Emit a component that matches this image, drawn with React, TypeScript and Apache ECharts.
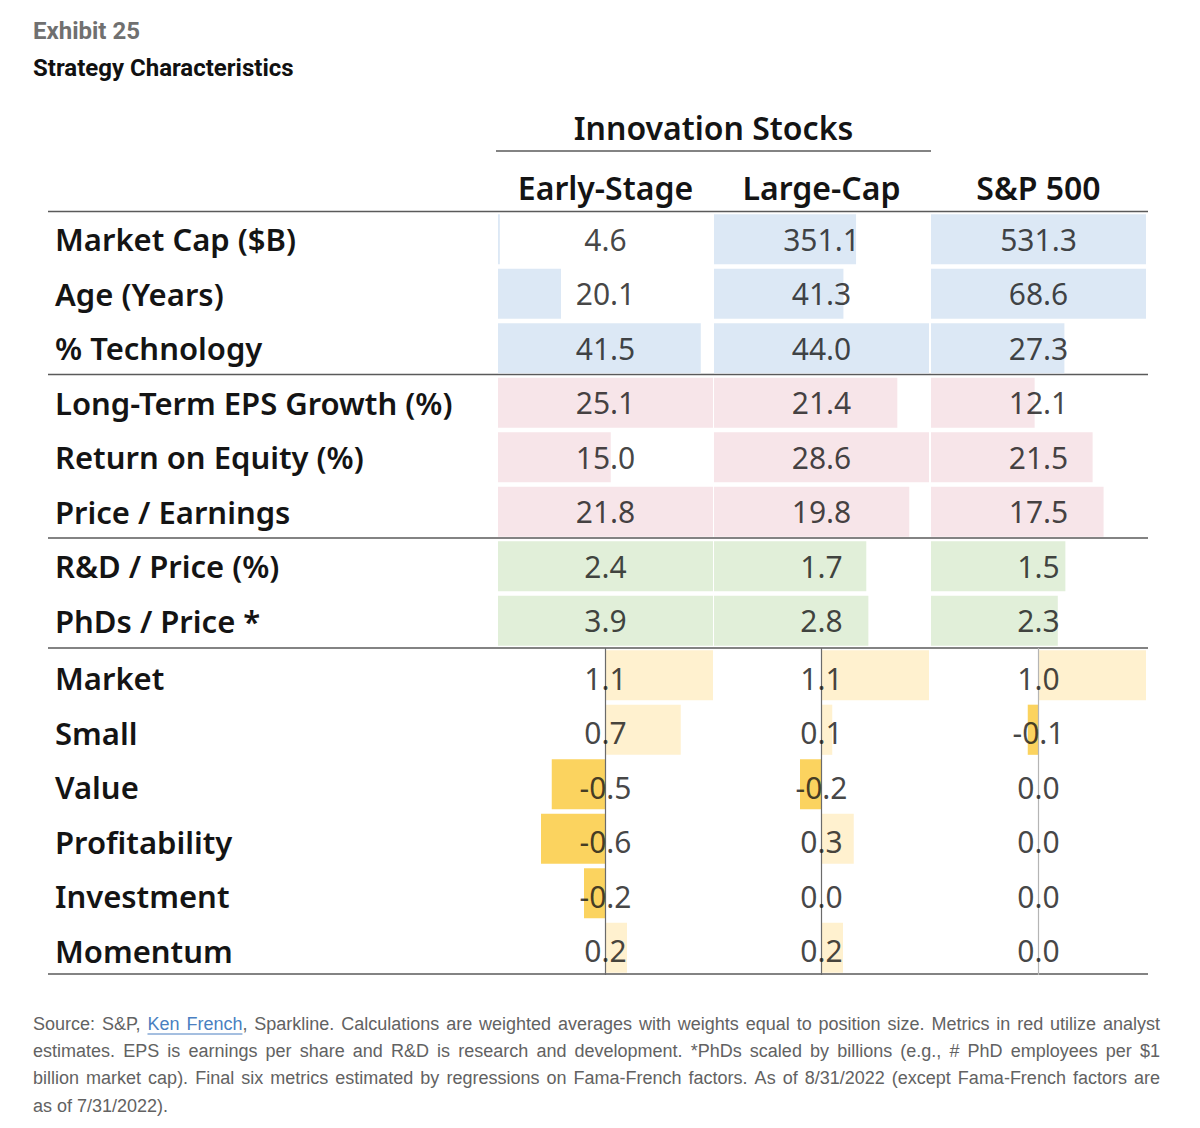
import React, { useEffect, useRef } from 'react';
import * as echarts from 'echarts';

// ---------- data ----------
const exhibitLabel = 'Exhibit 25';
const chartTitle = 'Strategy Characteristics';
const groupTitle = 'Innovation Stocks';
const columns = ['Early-Stage', 'Large-Cap', 'S&P 500'];

const metricRows = [
  'Market Cap ($B)',
  'Age (Years)',
  '% Technology',
  'Long-Term EPS Growth (%)',
  'Return on Equity (%)',
  'Price / Earnings',
  'R&D / Price (%)',
  'PhDs / Price *',
];
const earlyStage = [4.6, 20.1, 41.5, 25.1, 15.0, 21.8, 2.4, 3.9];
const largeCap = [351.1, 41.3, 44.0, 21.4, 28.6, 19.8, 1.7, 2.8];
const sp500 = [531.3, 68.6, 27.3, 12.1, 21.5, 17.5, 1.5, 2.3];

const factorRows = ['Market', 'Small', 'Value', 'Profitability', 'Investment', 'Momentum'];
const earlyFactors = [1.1, 0.7, -0.5, -0.6, -0.2, 0.2];
const largeFactors = [1.1, 0.1, -0.2, 0.3, 0.0, 0.2];
const spFactors = [1.0, -0.1, 0.0, 0.0, 0.0, 0.0];

const footnoteLines = [
  'Source: S&P, Ken French, Sparkline. Calculations are weighted averages with weights equal to position size. Metrics in red utilize analyst',
  'estimates. EPS is earnings per share and R&D is research and development. *PhDs scaled by billions (e.g., # PhD employees per $1',
  'billion market cap). Final six metrics estimated by regressions on Fama-French factors. As of 8/31/2022 (except Fama-French factors are',
  'as of 7/31/2022).',
];
const linkWords = ['Ken', 'French'];

// ---------- styling ----------
const metricColors = ['#dce8f5', '#dce8f5', '#dce8f5', '#f7e5e9', '#f7e5e9', '#f7e5e9', '#e1efd9', '#e1efd9'];
const posColor = '#fff1cf';
const negColor = '#fbd35f';
const axisColors = ['#6b6b6b', '#6b6b6b', '#b5b5b5'];
const colLeft = [498, 714, 931];
const colWidth = 215;
const tableTop = 212;
const rowH = 54.5;
const ruleColor = '#5a5a5a';
const labelFont = "'Noto Sans', sans-serif";

function buildFootnote(): any[] {
  const font = "18px 'Liberation Sans'";
  const canvas = document.createElement('canvas');
  const ctx = canvas.getContext('2d')!;
  ctx.font = font;
  const x0 = 33;
  const x1 = 1160;
  const ys = [1024, 1051, 1078, 1106];
  const els: any[] = [];
  footnoteLines.forEach((line, li) => {
    const words = line.split(' ');
    const widths = words.map((w) => ctx.measureText(w).width);
    const total = widths.reduce((a, b) => a + b, 0);
    const last = li === footnoteLines.length - 1;
    const gap = last ? ctx.measureText(' ').width : (x1 - x0 - total) / (words.length - 1);
    let x = x0;
    let linkStart = -1;
    let linkEnd = -1;
    words.forEach((w, wi) => {
      const core = w.replace(/[,.]$/, '');
      const isLink = li === 0 && linkWords.includes(core);
      if (isLink) {
        const cw = ctx.measureText(core).width;
        els.push({
          type: 'text', x, y: ys[li], silent: true,
          style: { text: core, font, fill: '#4a7fc1', textVerticalAlign: 'middle', verticalAlign: 'middle' },
        });
        if (linkStart < 0) linkStart = x;
        linkEnd = x + cw;
        if (core !== w) {
          els.push({
            type: 'text', x: x + cw, y: ys[li], silent: true,
            style: { text: w.slice(core.length), font, fill: '#626262', textVerticalAlign: 'middle', verticalAlign: 'middle' },
          });
        }
      } else {
        els.push({
          type: 'text', x, y: ys[li], silent: true,
          style: { text: w, font, fill: '#626262', textVerticalAlign: 'middle', verticalAlign: 'middle' },
        });
      }
      x += widths[wi] + gap;
    });
    if (linkStart >= 0) {
      els.push({
        type: 'line', silent: true,
        shape: { x1: linkStart, y1: ys[li] + 10, x2: linkEnd, y2: ys[li] + 10 },
        style: { stroke: '#4a7fc1', lineWidth: 1 },
      });
    }
  });
  return els;
}

export default function App() {
  const ref = useRef<HTMLDivElement>(null);

  useEffect(() => {
    document.body.style.margin = '0';
    if (!ref.current) return;
    const chart = echarts.init(ref.current, undefined, { renderer: 'svg' });

    const metricCols = [earlyStage, largeCap, sp500];
    const factorCols = [earlyFactors, largeFactors, spFactors];
    const rowMax = metricRows.map((_, j) => Math.max(...metricCols.map((c) => c[j])));

    const grids: any[] = [];
    const xAxes: any[] = [];
    const yAxes: any[] = [];
    const series: any[] = [];

    const rowLabel = (show: boolean, shift: number) => ({
      show,
      align: 'left',
      margin: 498 - 55,
      formatter: (v: string) => `{t|${v}}`,
      rich: {
        t: {
          fontFamily: labelFont,
          fontWeight: 600,
          fontSize: 31,
          color: '#141414',
          padding: [shift * 2, 0, 0, 0],
        },
      },
    });

    columns.forEach((_, i) => {
      const gTop = grids.length;
      grids.push({ left: colLeft[i], top: tableTop, width: colWidth, height: rowH * metricRows.length });
      xAxes.push({ type: 'value', gridIndex: gTop, min: 0, max: 1, show: false });
      yAxes.push({
        type: 'category', gridIndex: gTop, data: metricRows, inverse: true,
        axisLine: { show: false }, axisTick: { show: false }, splitLine: { show: false },
        axisLabel: rowLabel(i === 0, 0),
      });
      series.push({
        type: 'bar', xAxisIndex: gTop, yAxisIndex: gTop, silent: true,
        barCategoryGap: '8%',
        data: metricCols[i].map((v, j) => ({ value: v / rowMax[j], itemStyle: { color: metricColors[j] } })),
      });
      series.push({
        type: 'scatter', xAxisIndex: gTop, yAxisIndex: gTop, silent: true, symbolSize: 0, z: 5,
        data: metricCols[i].map((_, j) => [0.5, j]),
        label: {
          show: true, position: 'inside', fontFamily: labelFont, fontSize: 30, color: '#141414',
          formatter: (p: any) => metricCols[i][p.dataIndex].toFixed(1),
        },
      });

      const gFac = grids.length;
      grids.push({ left: colLeft[i], top: tableTop + rowH * metricRows.length, width: colWidth, height: rowH * factorRows.length });
      xAxes.push({ type: 'value', gridIndex: gFac, min: -1, max: 1, show: false });
      yAxes.push({
        type: 'category', gridIndex: gFac, data: factorRows, inverse: true,
        axisLine: { show: false }, axisTick: { show: false }, splitLine: { show: false },
        axisLabel: rowLabel(i === 0, 3),
      });
      series.push({
        type: 'bar', xAxisIndex: gFac, yAxisIndex: gFac, silent: true, clip: true,
        barCategoryGap: '8%',
        data: factorCols[i].map((v) => ({ value: v, itemStyle: { color: v < 0 ? negColor : posColor } })),
        markLine: {
          silent: true, symbol: 'none', label: { show: false },
          lineStyle: { type: 'solid', color: axisColors[i], width: 1.2 },
          data: [{ xAxis: 0 }],
        },
      });
      series.push({
        type: 'scatter', xAxisIndex: gFac, yAxisIndex: gFac, silent: true, symbolSize: 0, z: 5,
        data: factorCols[i].map((_, j) => [0, j]),
        label: {
          show: true, position: 'inside', offset: [0, 3], fontFamily: labelFont, fontSize: 30, color: '#141414',
          formatter: (p: any) => factorCols[i][p.dataIndex].toFixed(1),
        },
      });
    });

    const hdr = (text: string, x: number, y: number) => ({
      type: 'text', x, y, silent: true,
      style: {
        text, font: `600 32px ${labelFont}`, fill: '#141414',
        textAlign: 'center', align: 'center', textVerticalAlign: 'middle', verticalAlign: 'middle',
      },
    });
    const rule = (y: number, x1: number, x2: number) => ({
      type: 'line', silent: true, shape: { x1, y1: y, x2, y2: y },
      style: { stroke: ruleColor, lineWidth: 1.6 },
    });

    const tableBottom = tableTop + rowH * (metricRows.length + factorRows.length);
    const graphics: any[] = [
      {
        type: 'text', x: 33, y: 31, silent: true,
        style: { text: exhibitLabel, font: "bold 24px Roboto", fill: '#707070', textVerticalAlign: 'middle', verticalAlign: 'middle' },
      },
      {
        type: 'text', x: 33, y: 68, silent: true,
        style: { text: chartTitle, font: "bold 24px Roboto", fill: '#111111', textVerticalAlign: 'middle', verticalAlign: 'middle' },
      },
      hdr(groupTitle, (colLeft[0] + colLeft[1] + colWidth) / 2, 127),
      rule(151, 496, 931),
      hdr(columns[0], colLeft[0] + colWidth / 2, 187),
      hdr(columns[1], colLeft[1] + colWidth / 2, 187),
      hdr(columns[2], colLeft[2] + colWidth / 2, 187),
      rule(tableTop - 0.5, 48, 1148),
      rule(tableTop + rowH * 3 - 1, 48, 1148),
      rule(tableTop + rowH * 6 - 1, 48, 1148),
      rule(tableTop + rowH * 8, 48, 1148),
      rule(tableBottom - 1, 48, 1148),
      ...buildFootnote(),
    ];

    chart.setOption({
      animation: false,
      backgroundColor: '#ffffff',
      grid: grids,
      xAxis: xAxes,
      yAxis: yAxes,
      series,
      graphic: { elements: graphics },
    });

    return () => chart.dispose();
  }, []);

  return <div ref={ref} style={{ width: 1200, height: 1128 }} />;
}
